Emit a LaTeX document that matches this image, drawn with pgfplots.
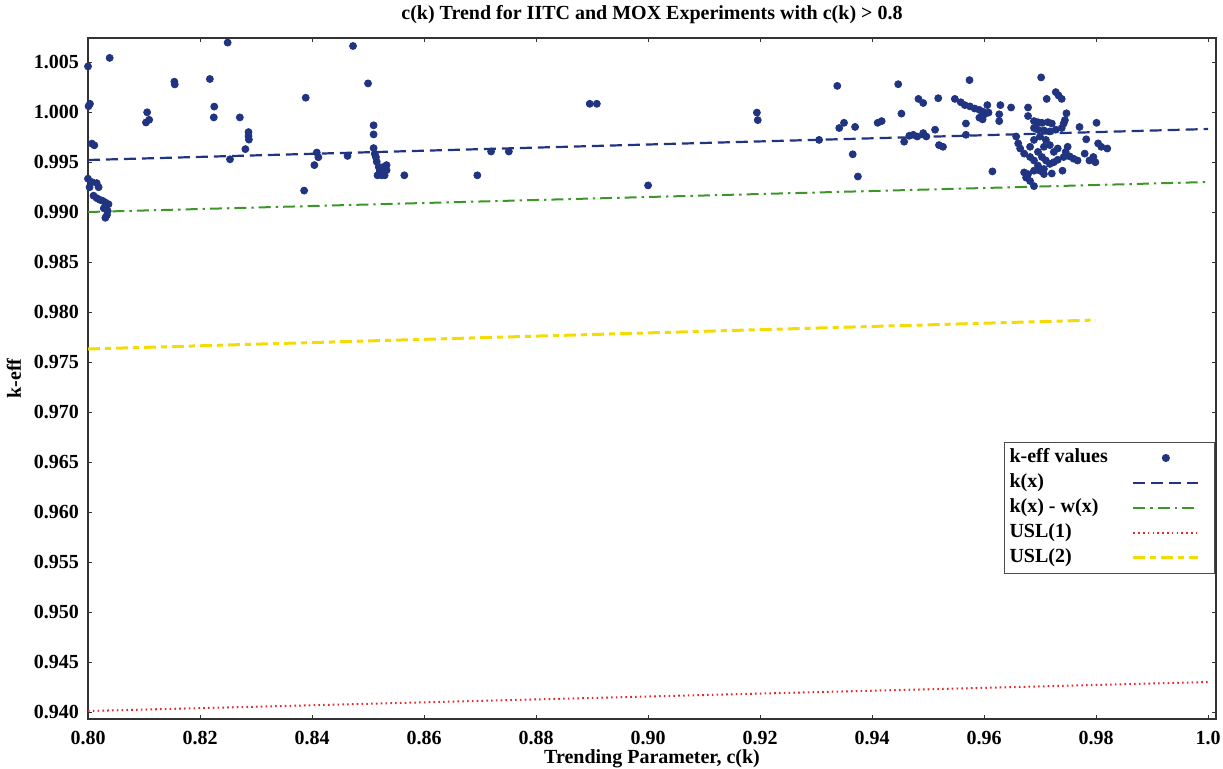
\documentclass[border=0pt]{standalone}
\usepackage{fontspec}
\setmainfont{Liberation Serif}
\usepackage{pgfplots}
\pgfplotsset{compat=1.18}
\definecolor{navy}{RGB}{32,52,130}
\definecolor{kgreen}{RGB}{60,150,40}
\definecolor{usly}{RGB}{245,220,0}
\definecolor{uslr}{RGB}{230,40,40}
\pgfplotsset{
  linelegend/.style={legend image code/.code={\path (0pt,0pt) (49pt,0pt); \draw[##1] (10.75pt,0pt) -- (43.25pt,0pt);}},
  dotlegend/.style={legend image code/.code={\path (0pt,0pt) (49pt,0pt); \draw[##1] plot coordinates {(27pt,0pt)};}},
}
\begin{document}
\begin{tikzpicture}
\begin{axis}[
  scale only axis, width=564pt, height=340.5pt,
  xmin=0.8, xmax=1.0014, ymin=0.9393, ymax=1.0074,
  clip=false,
  axis line style={black!80, line width=0.6pt},
  tick align=inside, major tick length=2pt,
  tick style={black!80, line width=0.5pt},
  xtick={0.80,0.82,0.84,0.86,0.88,0.90,0.92,0.94,0.96,0.98,1.0},
  xticklabels={0.80,0.82,0.84,0.86,0.88,0.90,0.92,0.94,0.96,0.98,1.0},
  ytick={0.940,0.945,0.950,0.955,0.960,0.965,0.970,0.975,0.980,0.985,0.990,0.995,1.000,1.005},
  yticklabels={0.940,0.945,0.950,0.955,0.960,0.965,0.970,0.975,0.980,0.985,0.990,0.995,1.000,1.005},
  ticklabel style={font=\bfseries},
  xticklabel style={anchor=base, yshift=-12.5pt},
  yticklabel style={anchor=east, xshift=-1pt},
  title={c(k) Trend for IITC and MOX Experiments with c(k) > 0.8},
  title style={font=\bfseries, at={(axis description cs:0.5,1)}, anchor=base, yshift=3.5pt},
  xlabel={Trending Parameter, c(k)},
  xlabel style={font=\bfseries, at={(axis description cs:0.5,0)}, anchor=base, yshift=-22pt},
  ylabel={k-eff},
  ylabel style={font=\bfseries, at={(axis description cs:-0.0656,0.5)}, anchor=center},
  legend style={at={(axis description cs:0.999,0.4068)}, anchor=north east,
    draw=black!70, line width=0.5pt, font=\bfseries, inner sep=1.5pt,
    nodes={inner sep=1.25pt, text height=7.5pt, text depth=2.5pt}},
  legend cell align=left,
  legend plot pos=right,
]
\addplot[only marks, mark=*, mark size=1.75pt, color=navy, mark options={fill=navy, draw=navy}, dotlegend]
table[row sep=\\] {
x y\\
0.8000 1.00456\\ 0.80387 1.00541\\ 0.80035 1.00082\\ 0.8001 1.00058\\
0.8007 0.99684\\ 0.80113 0.99667\\ 0.8000 0.99333\\ 0.80028 0.99248\\
0.8007 0.99299\\ 0.80155 0.99289\\ 0.8019 0.99248\\ 0.80099 0.99163\\
0.80155 0.99139\\ 0.80211 0.99122\\ 0.80261 0.99112\\ 0.8031 0.99095\\
0.80366 0.99078\\ 0.80282 0.99037\\ 0.80352 0.9901\\ 0.8031 0.98942\\
0.80338 0.98969\\
0.81056 0.99997\\ 0.81035 0.99895\\ 0.81092 0.99922\\
0.81542 1.00303\\ 0.81549 1.00276\\ 0.82176 1.00330\\ 0.82254 1.00054\\
0.82246 0.99946\\ 0.82493 1.00694\\ 0.82535 0.99527\\ 0.82711 0.99946\\
0.8281 0.99629\\ 0.82866 0.99799\\ 0.82866 0.99759\\ 0.82873 0.99724\\
0.83887 1.00143\\ 0.83859 0.99214\\ 0.84042 0.99469\\ 0.84085 0.99595\\
0.84113 0.99548\\ 0.84634 0.99561\\ 0.84732 1.00660\\ 0.85 1.00286\\
0.85099 0.99867\\ 0.85099 0.99776\\ 0.85099 0.99639\\ 0.8512 0.99582\\
0.85141 0.99548\\ 0.85155 0.99503\\ 0.8519 0.99452\\ 0.85211 0.99412\\
0.85169 0.99367\\ 0.8524 0.99367\\ 0.85282 0.99452\\ 0.85331 0.99418\\
0.85296 0.99367\\ 0.85331 0.99469\\ 0.85648 0.99367\\ 0.86951 0.99367\\
0.87197 0.99605\\ 0.87514 0.99605\\ 0.88958 1.00082\\ 0.89085 1.00082\\
0.900 0.99266\\ 0.91943 0.99994\\ 0.91958 0.99919\\ 0.93053 0.99721\\
0.93378 1.00261\\ 0.93413 0.99840\\ 0.93498 0.99892\\ 0.93696 0.99851\\
0.93654 0.99577\\ 0.93746 0.99355\\ 0.94099 0.99892\\ 0.9417 0.99909\\
0.94466 1.00278\\ 0.94523 0.99984\\ 0.94572 0.99703\\ 0.94664 0.99762\\
0.94735 0.99772\\ 0.94806 0.99755\\ 0.94912 0.99789\\ 0.94968 0.99755\\
0.95124 0.99823\\ 0.94827 1.00131\\ 0.94912 1.0009\\ 0.9518 1.00138\\
0.95194 0.99669\\ 0.95265 0.99652\\ 0.95477 1.00131\\ 0.95583 1.00097\\
0.95654 1.00069\\ 0.95746 1.00056\\ 0.9583 1.00035\\ 0.95915 1.00021\\
0.95986 1.00001\\ 0.95915 0.99943\\ 0.96007 0.99977\\ 0.96078 0.99994\\
0.95972 0.99926\\ 0.95739 1.00319\\ 0.95675 0.99885\\ 0.95675 0.99772\\
0.96057 1.00069\\ 0.9629 1.00069\\ 0.96269 0.99977\\ 0.96269 0.99909\\
0.96481 1.00045\\ 0.96148 0.99406\\ 0.96784 1.00045\\ 0.97018 1.00346\\
0.97117 1.00131\\ 0.97279 1.00199\\ 0.97329 1.00165\\ 0.97385 1.00131\\
0.9747 0.99987\\ 0.97442 0.99919\\ 0.97703 0.9985\\ 0.98007 0.99892\\
0.97795 0.99584\\ 0.97823 0.99727\\ 0.98035 0.99686\\ 0.98092 0.99652\\
0.98198 0.99635\\ 0.9795 0.9955\\ 0.9788 0.99515\\ 0.97986 0.99498\\
0.96784 0.9996\\ 0.9689 0.99909\\ 0.96961 0.99898\\ 0.97032 0.99892\\
0.97138 0.99898\\ 0.97208 0.99885\\ 0.9689 0.9984\\ 0.96961 0.99823\\
0.97067 0.99816\\ 0.97173 0.99806\\ 0.97279 0.99823\\ 0.97385 0.9984\\
0.9742 0.99885\\ 0.96572 0.99755\\ 0.96608 0.99686\\ 0.96643 0.99635\\
0.96714 0.99584\\ 0.9682 0.99652\\ 0.9689 0.99721\\ 0.96996 0.99755\\
0.97102 0.99721\\ 0.97173 0.99669\\ 0.97067 0.99652\\ 0.96961 0.99601\\
0.97032 0.9955\\ 0.97102 0.99515\\ 0.97173 0.99481\\ 0.97244 0.99498\\
0.97314 0.99522\\ 0.9742 0.9955\\ 0.97527 0.99556\\ 0.97597 0.99533\\
0.97668 0.99515\\ 0.9682 0.9955\\ 0.9689 0.99515\\ 0.96961 0.99464\\
0.9689 0.99413\\ 0.96784 0.99379\\ 0.96714 0.99396\\ 0.96749 0.99344\\
0.9682 0.9931\\ 0.9689 0.99259\\ 0.96996 0.99413\\ 0.97067 0.99379\\
0.97208 0.99385\\ 0.97399 0.99413\\ 0.97456 0.99601\\ 0.97491 0.99652\\
0.97067 0.9943\\ 0.97244 0.99601\\ 0.97314 0.99635\\
};
\addlegendentry{k-eff values}
\addplot[navy, line width=1.1pt, dash pattern=on 6pt off 3pt, linelegend] coordinates {(0.8,0.9952) (1.0,0.9983)};
\addlegendentry{k(x)}
\addplot[kgreen, line width=1pt, dash pattern=on 6pt off 2.5pt on 1.2pt off 2.5pt, linelegend] coordinates {(0.8,0.9900) (1.0,0.9930)};
\addlegendentry{k(x) - w(x)}
\addplot[uslr, line width=1pt, dash pattern=on 0.8pt off 1.6pt, linelegend] coordinates {(0.8,0.9401) (1.0,0.9430)};
\addlegendentry{USL(1)}
\addplot[usly, line width=1.5pt, dash pattern=on 6pt off 2.5pt on 3pt off 2.5pt, linelegend] coordinates {(0.8,0.9763) (0.98,0.9792)};
\addlegendentry{USL(2)}
\end{axis}
\pgfresetboundingbox
\path[use as bounding box] ([shift={(-44pt,-24.5pt)}]current axis.south west) rectangle ([shift={(3.5pt,19pt)}]current axis.north east);
\end{tikzpicture}
\end{document}
